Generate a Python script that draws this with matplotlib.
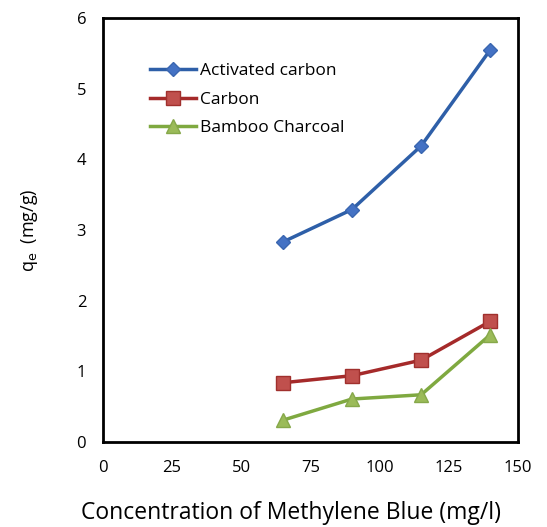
import matplotlib
matplotlib.use("Agg")
import matplotlib.pyplot as plt

x = [65, 90, 115, 140]
activated = [2.83, 3.29, 4.19, 5.55]
carbon = [0.84, 0.94, 1.16, 1.71]
bamboo = [0.31, 0.61, 0.67, 1.52]
xticks = [0, 25, 50, 75, 100, 125, 150]
yticks = [0, 1, 2, 3, 4, 5, 6]

plt.rcParams['font.family'] = ['Open Sans', 'DejaVu Sans']

fig = plt.figure(figsize=(5.47, 5.27), dpi=100)
ax = fig.add_axes([0.188, 0.161, 0.759, 0.805])

ax.plot(x, activated, color='#2E5FA8', lw=2.5, marker='D', ms=7,
        mfc='#4472C4', mec='#3A66B0', label='Activated carbon')
ax.plot(x, carbon, color='#A52A2A', lw=2.5, marker='s', ms=10,
        mfc='#C0504D', mec='#A0302D', label='Carbon')
ax.plot(x, bamboo, color='#7FA940', lw=2.5, marker='^', ms=10,
        mfc='#9BBB59', mec='#86A84A', label='Bamboo Charcoal')

ax.set_xlim(0, 150)
ax.set_ylim(0, 6)
ax.set_xticks(xticks)
ax.set_yticks(yticks)
ax.tick_params(axis='x', length=0, labelsize=12, pad=13)
ax.tick_params(axis='y', length=0, labelsize=12, pad=12)
for s in ax.spines.values():
    s.set_linewidth(2)
    s.set_color('black')

ax.set_xlabel('Concentration of Methylene Blue (mg/l)', fontsize=16.5, va='center')
ax.xaxis.set_label_coords(0.453, -0.168)
ax.set_ylabel(r'q$_\mathrm{e}$  (mg/g)', fontsize=13, labelpad=26)

ax.legend(loc='upper left', bbox_to_anchor=(0.075, 0.93), frameon=False,
          fontsize=12.5, handlelength=2.7, labelspacing=0.7, handletextpad=0.2)

fig.savefig('out.png', dpi=100)
